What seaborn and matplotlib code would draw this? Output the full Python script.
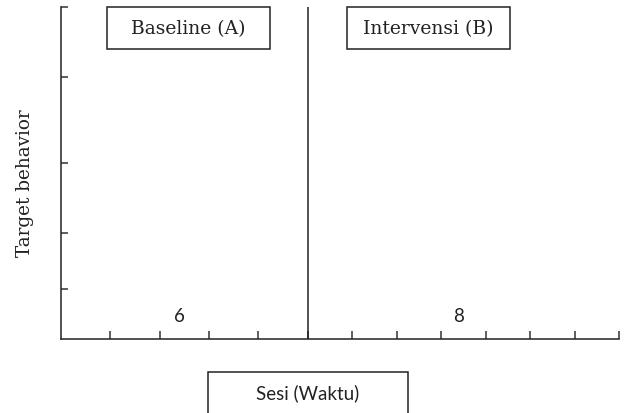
import numpy as np
import pandas as pd
import matplotlib
matplotlib.use("Agg")
import matplotlib.pyplot as plt
from matplotlib.patches import Rectangle
import seaborn as sns

# ---- data ----
phases = ["Baseline (A)", "Intervensi (B)"]
phase_counts = ["6", "8"]
phase_start = [0, 5]
phase_end = [5, 12]
session_ticks = list(range(1, 13))
y_ticks = [15, 32, 53, 79, 100]
x_label = "Sesi (Waktu)"
y_label = "Target behavior"

sns.set_theme(style="ticks")
plt.rcParams["font.family"] = ["DejaVu Serif"]

fig = plt.figure(figsize=(6.24, 4.14), dpi=100)
ax = fig.add_axes([61/624, 1-340/414, 558/624, 332/414])

# piecewise x-scale: baseline intervals wider than intervention intervals
bp_x = [phase_start[0], phase_end[0], phase_end[1]]
bp_u = [0.0, 246.7, 558.0]
fwd = lambda v: np.interp(v, bp_x, bp_u)
inv = lambda v: np.interp(v, bp_u, bp_x)
ax.set_xscale("function", functions=(fwd, inv))

df = pd.DataFrame({"session": [phase_start[0], phase_end[1]], "value": [np.nan, np.nan]})
sns.lineplot(data=df, x="session", y="value", ax=ax)

ax.set_xlim(phase_start[0], phase_end[1])
ax.set_ylim(0, 100)
ax.set_xticks(session_ticks)
ax.set_xticklabels([])
ax.set_yticks(y_ticks)
ax.set_yticklabels([])
ax.minorticks_off()
ax.set_xlabel("")
ax.set_ylabel("")
sns.despine(ax=ax)
for s in ["left", "bottom"]:
    ax.spines[s].set_color("#222222")
    ax.spines[s].set_linewidth(1.1)
ax.tick_params(axis="x", direction="in", length=5.5, width=1.1, color="#333333")
ax.tick_params(axis="y", direction="in", length=5.0, width=1.1, color="#333333")

# phase divider
ax.axvline(phase_end[0], color="#222222", lw=1.1)

# phase session counts
for s, e, c in zip(phase_start, phase_end, phase_counts):
    ax.text((s + e) / 2 - 0.1, 7, c, ha="center", va="center", fontsize=13.5,
            family=["Lato", "DejaVu Sans"], color="#222222")

# phase header boxes
box_x = [(107-61)/558, (347-61)/558]
for bx, name in zip(box_x, phases):
    ax.add_patch(Rectangle((bx, 1-42/332), 163/558, 42/332, transform=ax.transAxes,
                           fill=False, edgecolor="#222222", lw=1.1, clip_on=False))
    ax.text(bx + 163/558/2, 1-21/332, name, transform=ax.transAxes, ha="center",
            va="center", fontsize=13.5, color="#222222")

# y label
fig.text(25/624, 1-183/414, y_label, rotation=90, ha="center", va="center",
         fontsize=13.2, color="#222222")

# x label in box
fig.patches.append(Rectangle((208/624, -0.05), 200/624, 0.05 + 1-373/414,
                             transform=fig.transFigure, fill=False,
                             edgecolor="#222222", lw=1.1, figure=fig))
fig.text(308/624, 1-393/414, x_label, ha="center", va="center", fontsize=13.5,
         family=["Lato", "DejaVu Sans"], color="#222222")

fig.savefig("out.png", dpi=100)
